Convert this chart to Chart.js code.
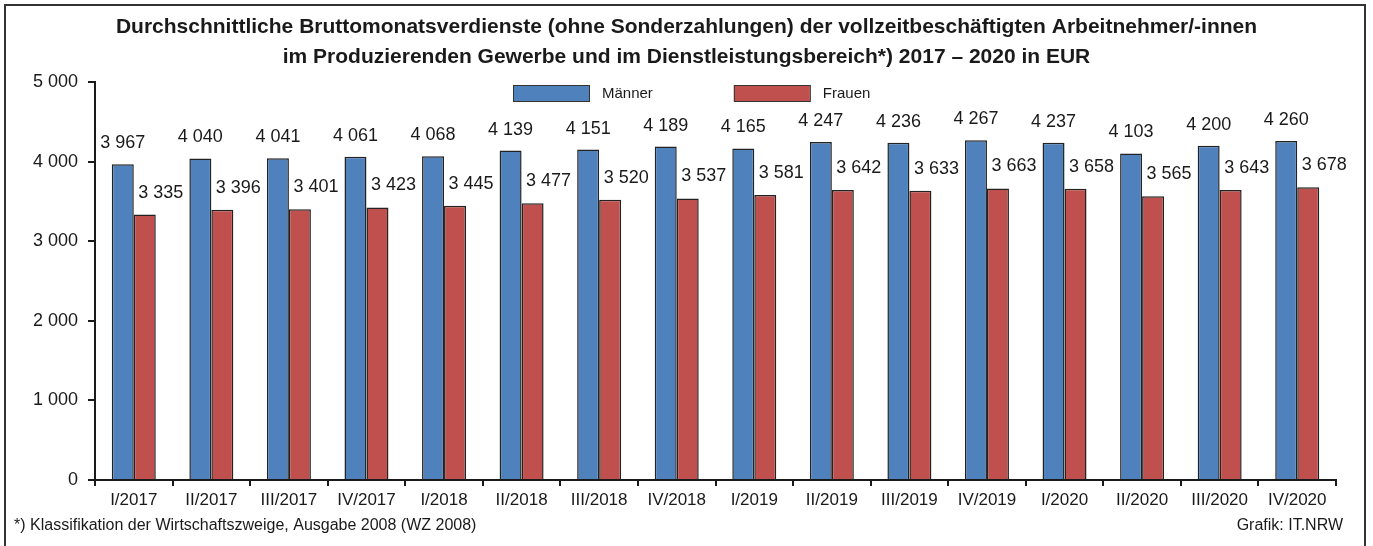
<!DOCTYPE html>
<html>
<head>
<meta charset="utf-8">
<script src="https://cdn.jsdelivr.net/npm/chart.js@4"></script>
<style>
  html, body { margin: 0; padding: 0; background: #fff; }
  #wrap { width: 1373px; height: 546px; }
</style>
</head>
<body>
<div id="wrap"><canvas id="myChart" width="1373" height="546"></canvas></div>
<script>
const quartale = ['I/2017', 'II/2017', 'III/2017', 'IV/2017', 'I/2018', 'II/2018', 'III/2018', 'IV/2018',
    'I/2019', 'II/2019', 'III/2019', 'IV/2019', 'I/2020', 'II/2020', 'III/2020', 'IV/2020'];
const maenner = [3967, 4040, 4041, 4061, 4068, 4139, 4151, 4189, 4165, 4247, 4236, 4267, 4237, 4103, 4200, 4260];
const frauen = [3335, 3396, 3401, 3423, 3445, 3477, 3520, 3537, 3581, 3642, 3633, 3663, 3658, 3565, 3643, 3678];
const yTicks = [0, 1000, 2000, 3000, 4000, 5000];

const titel = ['Durchschnittliche Bruttomonatsverdienste (ohne Sonderzahlungen) der vollzeitbeschäftigten Arbeitnehmer/-innen',
    'im Produzierenden Gewerbe und im Dienstleistungsbereich*) 2017 – 2020 in EUR'];
const fussnote = '*) Klassifikation der Wirtschaftszweige, Ausgabe 2008 (WZ 2008)';
const quelle = 'Grafik: IT.NRW';

const FONT = "'Liberation Sans', Arial, sans-serif";
const TEXT = '#1a1a1a';
const fmt = (v) => String(v).replace(/\B(?=(\d{3})+(?!\d))/g, ' ');

// Werte über den Säulen
const labelPlugin = {
    id: 'werte',
    afterDatasetsDraw(chart) {
        const ctx = chart.ctx;
        ctx.save();
        ctx.font = `18px ${FONT}`;
        ctx.fillStyle = TEXT;
        ctx.textAlign = 'center';
        ctx.textBaseline = 'middle';
        chart.data.datasets.forEach((ds, di) => {
            chart.getDatasetMeta(di).data.forEach((bar, i) => {
                const dx = di === 0 ? 0 : 16;
                const dy = di === 0 ? 21 : 22;
                ctx.fillText(fmt(ds.data[i]), bar.x + dx, bar.y - dy);
            });
        });
        ctx.restore();
    }
};

// Legende im Diagrammbereich, Rahmen und Fußzeile
const rahmenPlugin = {
    id: 'rahmen',
    afterDraw(chart) {
        const ctx = chart.ctx;
        ctx.save();
        // Legende
        ctx.font = `15px ${FONT}`;
        ctx.textBaseline = 'middle';
        ctx.textAlign = 'left';
        let x = 513;
        const y = 85;
        chart.data.datasets.forEach(ds => {
            ctx.fillStyle = ds.backgroundColor;
            ctx.fillRect(x, y, 76, 16);
            ctx.strokeStyle = '#333';
            ctx.lineWidth = 1;
            ctx.strokeRect(x + 0.5, y + 0.5, 76, 16);
            ctx.fillStyle = TEXT;
            ctx.fillText(ds.label, x + 89, y + 9);
            x += 89 + ctx.measureText(ds.label).width + 81;
        });
        // Rahmen
        ctx.strokeStyle = '#333';
        ctx.lineWidth = 2;
        ctx.strokeRect(5, 5, 1360, 550);
        // Fußzeile
        ctx.font = `16px ${FONT}`;
        ctx.fillStyle = TEXT;
        ctx.textAlign = 'left';
        ctx.fillText(fussnote, 14, 526);
        ctx.textAlign = 'right';
        ctx.fillText(quelle, 1343, 526);
        ctx.restore();
    }
};

new Chart(document.getElementById('myChart'), {
    type: 'bar',
    data: {
        labels: quartale,
        datasets: [
            { label: 'Männer', data: maenner, backgroundColor: '#4F81BD', borderColor: '#222', borderWidth: 1.5 },
            { label: 'Frauen', data: frauen, backgroundColor: '#C0504D', borderColor: '#222', borderWidth: 1.5 }
        ]
    },
    options: {
        responsive: false,
        animation: false,
        devicePixelRatio: 1,
        categoryPercentage: 0.567,
        barPercentage: 1,
        layout: { padding: { left: 0, right: 0, top: 0, bottom: 30 } },
        plugins: {
            title: {
                display: true,
                text: titel,
                color: TEXT,
                font: { family: FONT, size: 21, weight: 'bold', lineHeight: '30px' },
                padding: { top: 12, bottom: 10 }
            },
            legend: { display: false },
            tooltip: { enabled: false }
        },
        scales: {
            x: {
                grid: { drawOnChartArea: false, drawTicks: true, tickLength: 6, color: TEXT, lineWidth: 2 },
                border: { color: TEXT, width: 2 },
                ticks: { color: TEXT, font: { family: FONT, size: 17 }, padding: 4, maxRotation: 0, autoSkip: false },
                afterFit(scale) { scale.height = 36; }
            },
            y: {
                min: 0, max: 5000,
                afterBuildTicks(scale) { scale.ticks = yTicks.map(v => ({ value: v })); },
                grid: { drawOnChartArea: false, drawTicks: true, tickLength: 7, color: TEXT, lineWidth: 2 },
                border: { color: TEXT, width: 2 },
                ticks: { color: TEXT, font: { family: FONT, size: 18 }, padding: 10, callback: v => fmt(v) },
                afterFit(scale) { scale.width = 95; }
            },
            // leerer Rand rechts, damit der Titel mittig über dem Bild steht
            rand: {
                position: 'right',
                min: 0, max: 5000,
                grid: { display: false },
                border: { display: false },
                ticks: { display: false },
                afterFit(scale) { scale.width = 37; }
            }
        }
    },
    plugins: [labelPlugin, rahmenPlugin]
});
</script>
</body>
</html>
